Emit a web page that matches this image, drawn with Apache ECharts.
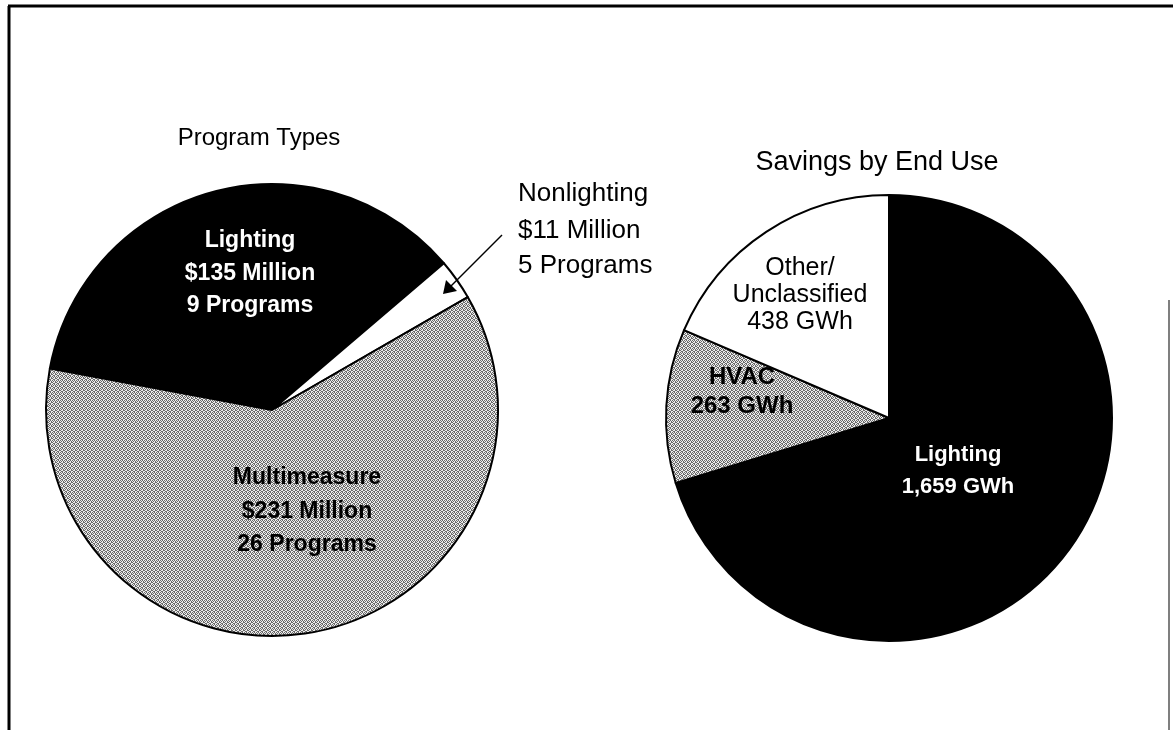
<html>
<head>
<meta charset="utf-8">
<title>Program Types and Savings by End Use</title>
<script src="https://cdn.jsdelivr.net/npm/echarts@6/dist/echarts.min.js"></script>
<style>
html, body { margin: 0; padding: 0; background: #fff; }
#main { width: 1173px; height: 730px; }
</style>
</head>
<body>
<div id="main"></div>
<script>
// left pie: program types
var programNames = ['Lighting', 'Nonlighting', 'Multimeasure'];
var programMillions = [135, 11, 231];
var programCounts = [9, 5, 26];

// right pie: savings by end use
var endUseNames = ['Lighting', 'HVAC', 'Other/Unclassified'];
var endUseGWh = [1659, 263, 438];

var FONT = '"Liberation Sans", Arial, sans-serif';

// stippled gray fill like the scanned original
function stipple() {
	var c = document.createElement('canvas');
	c.width = 4; c.height = 4;
	var ctx = c.getContext('2d');
	ctx.fillStyle = '#ececec';
	ctx.fillRect(0, 0, 4, 4);
	ctx.fillStyle = '#6a6a6a';
	var dots = [[0,0],[2,0],[1,1],[3,1],[0,2],[3,2],[1,3],[2,3]];
	for (var i = 0; i < dots.length; i++) {
		ctx.fillRect(dots[i][0], dots[i][1], 1, 1);
	}
	return { image: c, repeat: 'repeat' };
}
var gray = stipple();

function fmt(n) {
	return n.toString().replace(/\B(?=(\d{3})+(?!\d))/g, ',');
}

function programLines(i) {
	return [programNames[i], '$' + programMillions[i] + ' Million', programCounts[i] + ' Programs'];
}

// one text element per line, centred on x
function textBlock(lines, x, ys, size, weight, color, align) {
	var out = [];
	for (var i = 0; i < lines.length; i++) {
		out.push({
			type: 'text',
			x: x,
			y: ys[i],
			z: 100,
			silent: true,
			style: {
				text: lines[i],
				fill: color,
				font: weight + ' ' + size + 'px ' + FONT,
				textAlign: align || 'center',
				textVerticalAlign: 'middle'
			}
		});
	}
	return out;
}

var chart = echarts.init(document.getElementById('main'));

var leftData = programNames.map(function (n, i) {
	return { name: n, value: programMillions[i], itemStyle: { color: ['#000', '#fff', gray][i] } };
});
var rightData = endUseNames.map(function (n, i) {
	return { name: n, value: endUseGWh[i], itemStyle: { color: ['#000', gray, '#fff'][i] } };
});

var graphics = [];
// frame
graphics.push({ type: 'line', z: 100, silent: true, shape: { x1: 8, y1: 6, x2: 1173, y2: 6 }, style: { stroke: '#000', lineWidth: 3 } });
graphics.push({ type: 'line', z: 100, silent: true, shape: { x1: 9, y1: 6, x2: 9, y2: 730 }, style: { stroke: '#000', lineWidth: 3 } });
graphics.push({ type: 'line', z: 100, silent: true, shape: { x1: 1169, y1: 300, x2: 1169, y2: 730 }, style: { stroke: '#555', lineWidth: 1.5 } });

// titles
graphics = graphics.concat(textBlock(['Program Types'], 259, [138], 24, 'normal', '#000'));
graphics = graphics.concat(textBlock(['Savings by End Use'], 877, [163], 27, 'normal', '#000'));

// left pie labels
graphics = graphics.concat(textBlock(programLines(0), 250, [241, 274, 306], 23, 'bold', '#fff'));
graphics = graphics.concat(textBlock(programLines(2), 307, [478, 512, 545], 23, 'bold', '#000'));
graphics = graphics.concat(textBlock(programLines(1), 518, [194, 231, 266], 26, 'normal', '#000', 'left'));

// arrow to the nonlighting slice
graphics.push({ type: 'line', z: 100, silent: true, shape: { x1: 502, y1: 235, x2: 449, y2: 288 }, style: { stroke: '#000', lineWidth: 1.5 } });
graphics.push({ type: 'polygon', z: 100, silent: true, shape: { points: [[443, 294], [446, 280], [457, 291]] }, style: { fill: '#000' } });

// right pie labels
graphics = graphics.concat(textBlock(['Other/', 'Unclassified', fmt(endUseGWh[2]) + ' GWh'], 800, [268, 295, 322], 25, 'normal', '#000'));
graphics = graphics.concat(textBlock([endUseNames[1], fmt(endUseGWh[1]) + ' GWh'], 742, [377, 406], 24, 'bold', '#000'));
graphics = graphics.concat(textBlock([endUseNames[0], fmt(endUseGWh[0]) + ' GWh'], 958, [455, 487], 22, 'bold', '#fff'));

var option = {
	animation: false,
	backgroundColor: '#fff',
	series: [
		{
			type: 'pie',
			z: 1,
			center: [272, 410],
			radius: 226,
			startAngle: 169.4,
			clockwise: true,
			silent: true,
			label: { show: false },
			labelLine: { show: false },
			itemStyle: { borderColor: '#000', borderWidth: 2 },
			data: leftData
		},
		{
			type: 'pie',
			z: 1,
			center: [889, 418],
			radius: 223,
			startAngle: 90,
			clockwise: true,
			silent: true,
			label: { show: false },
			labelLine: { show: false },
			itemStyle: { borderColor: '#000', borderWidth: 2 },
			data: rightData
		}
	],
	graphic: { elements: graphics }
};

chart.setOption(option);
</script>
</body>
</html>
